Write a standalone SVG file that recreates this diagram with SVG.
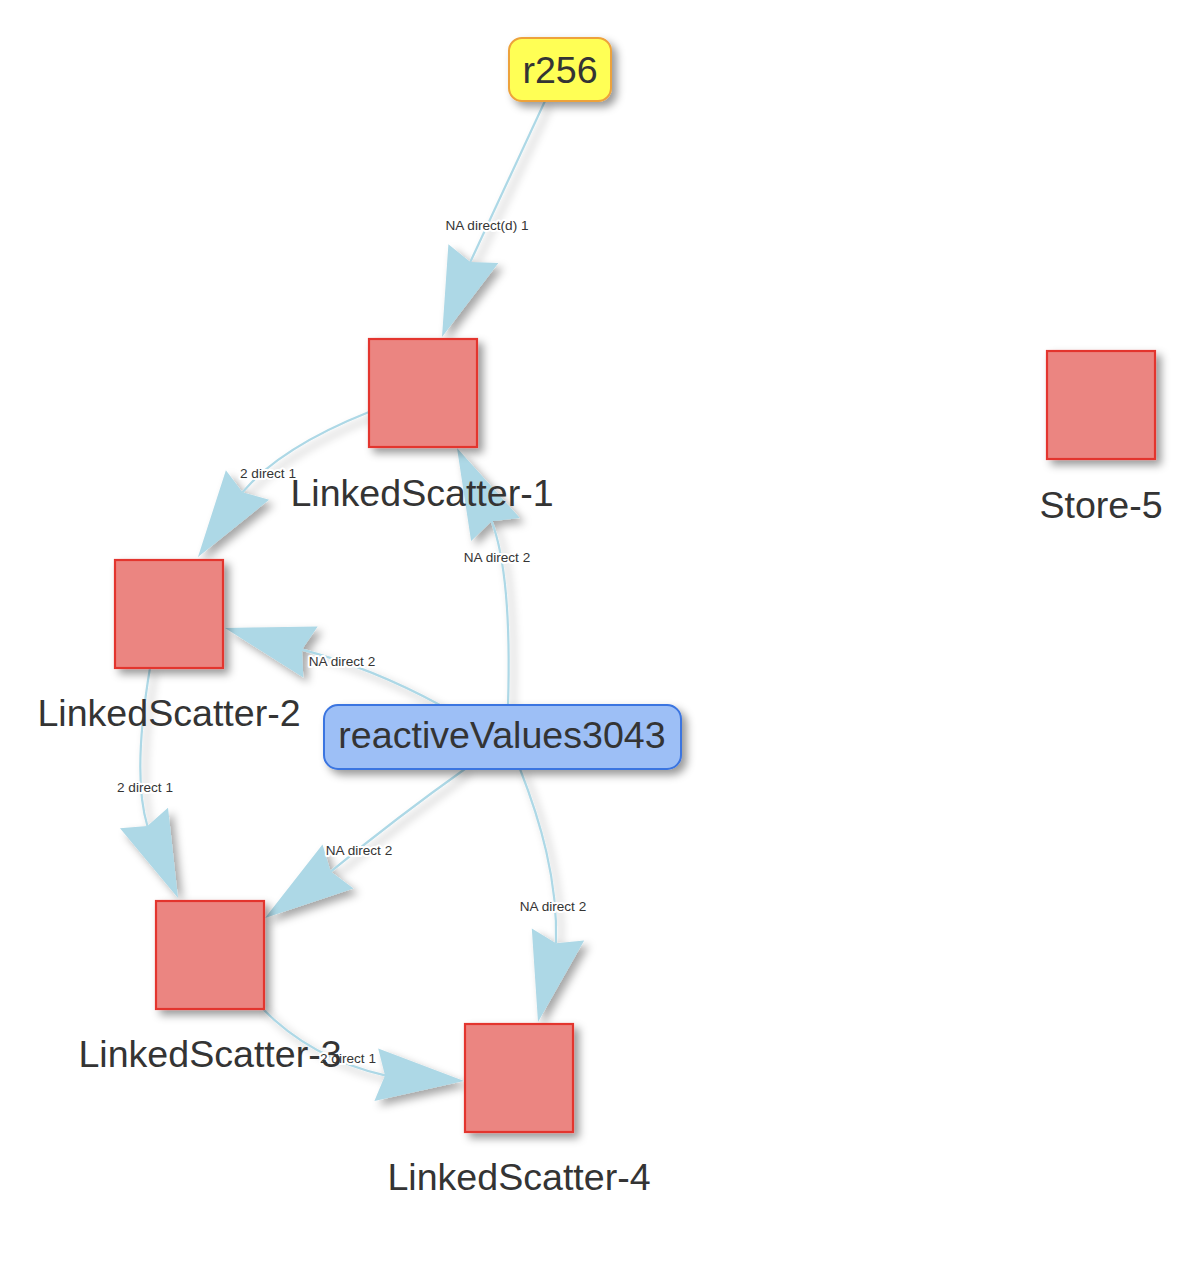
<svg xmlns="http://www.w3.org/2000/svg" width="1184" height="1282" viewBox="0 0 1184 1282">
<defs>
<filter id="sh" x="-30%" y="-30%" width="160%" height="160%">
<feDropShadow dx="5" dy="5" stdDeviation="4" flood-color="#000" flood-opacity="0.4"/>
</filter>
<filter id="esh" x="-30%" y="-30%" width="160%" height="160%">
<feDropShadow dx="5" dy="5" stdDeviation="4" flood-color="#000" flood-opacity="0.35"/>
</filter>
<style>
.edge{fill:none;stroke:#ADD8E6;stroke-width:2.2}
.ah{fill:#ADD8E6;stroke:none}
.elabel{font-family:"Liberation Sans",Arial,sans-serif;font-size:13.6px;fill:#343434;text-anchor:middle;stroke:#fff;stroke-width:4;paint-order:stroke;stroke-linejoin:round}
.nlabel{font-family:"Liberation Sans",Arial,sans-serif;font-size:37.6px;fill:#343434;text-anchor:middle}
.sq{fill:#EB8581;stroke:#E3342D;stroke-width:2.2}
</style>
</defs>
<rect width="1184" height="1282" fill="#fff"/>
<g id="edges" filter="url(#esh)">
<path class="edge" d="M545,101 L470.3,262"/>
<polygon class="ah" points="442,337 448.4,244.3 470.3,262 498.4,263.1"/>
<path class="edge" d="M369,412 Q281,447 242.5,492.2"/>
<polygon class="ah" points="198,557 225.9,470.2 242.5,492.2 269.1,499.8"/>
<path class="edge" d="M508,705 Q512,575 491.6,521.2"/>
<polygon class="ah" points="457,448 471.1,541 491.6,521.2 519.9,518"/>
<path class="edge" d="M440,705 Q372,668 302,649.6"/>
<polygon class="ah" points="225,628 317.7,626.4 302,649.6 303.3,677.6"/>
<path class="edge" d="M150,668 Q132,775 147.4,826"/>
<polygon class="ah" points="178,898 120,828.2 147.4,826 168,807.8"/>
<path class="edge" d="M465,769 Q400,815 330.7,871.6"/>
<polygon class="ah" points="265,918 322.5,844.6 330.7,871.6 353.5,888.4"/>
<path class="edge" d="M520,769 C540,820 558,880 556,943.3"/>
<polygon class="ah" points="538,1022 531.8,928.5 556,943.3 584.2,940.5"/>
<path class="edge" d="M262,1008 Q310,1058 385,1075.4"/>
<polygon class="ah" points="464,1081 378.2,1048.5 385,1075.4 374.4,1101.1"/>
</g>
<g id="edge-labels">
<text class="elabel" x="487" y="230">NA direct(d) 1</text>
<text class="elabel" x="268" y="478">2 direct 1</text>
<text class="elabel" x="497" y="562">NA direct 2</text>
<text class="elabel" x="342" y="666">NA direct 2</text>
<text class="elabel" x="145" y="792">2 direct 1</text>
<text class="elabel" x="359" y="855">NA direct 2</text>
<text class="elabel" x="553" y="911">NA direct 2</text>
<text class="elabel" x="348" y="1063">2 direct 1</text>
</g>
<g id="node-r256">
<rect x="509" y="38" width="102" height="63" rx="13" fill="#FFFF55" stroke="#EDA23A" stroke-width="2" filter="url(#sh)"/>
<text class="nlabel" x="560" y="83">r256</text>
</g>
<g id="node-LinkedScatter-1">
<rect class="sq" x="369" y="339" width="108" height="108" filter="url(#sh)"/>
<text class="nlabel" x="422" y="506">LinkedScatter-1</text>
</g>
<g id="node-LinkedScatter-2">
<rect class="sq" x="115" y="560" width="108" height="108" filter="url(#sh)"/>
<text class="nlabel" x="169" y="726">LinkedScatter-2</text>
</g>
<g id="node-reactiveValues3043">
<rect x="324" y="705" width="357" height="64" rx="14" fill="#9DBFF6" stroke="#3A74E0" stroke-width="2" filter="url(#sh)"/>
<text class="nlabel" x="502" y="748">reactiveValues3043</text>
</g>
<g id="node-LinkedScatter-3">
<rect class="sq" x="156" y="901" width="108" height="108" filter="url(#sh)"/>
<text class="nlabel" x="210" y="1067">LinkedScatter-3</text>
</g>
<g id="node-LinkedScatter-4">
<rect class="sq" x="465" y="1024" width="108" height="108" filter="url(#sh)"/>
<text class="nlabel" x="519" y="1190">LinkedScatter-4</text>
</g>
<g id="node-Store-5">
<rect class="sq" x="1047" y="351" width="108" height="108" filter="url(#sh)"/>
<text class="nlabel" x="1101" y="518">Store-5</text>
</g>
</svg>
